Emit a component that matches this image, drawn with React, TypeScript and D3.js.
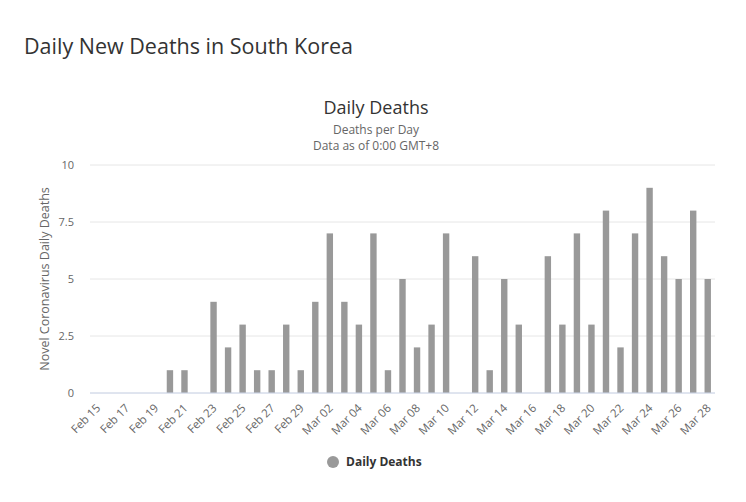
import { useEffect, useRef } from "react";
import * as d3 from "d3";

// daily values, Feb 15 - Mar 28
const dates = [
  "Feb 15", "Feb 16", "Feb 17", "Feb 18", "Feb 19", "Feb 20", "Feb 21", "Feb 22",
  "Feb 23", "Feb 24", "Feb 25", "Feb 26", "Feb 27", "Feb 28", "Feb 29",
  "Mar 01", "Mar 02", "Mar 03", "Mar 04", "Mar 05", "Mar 06", "Mar 07", "Mar 08",
  "Mar 09", "Mar 10", "Mar 11", "Mar 12", "Mar 13", "Mar 14", "Mar 15", "Mar 16",
  "Mar 17", "Mar 18", "Mar 19", "Mar 20", "Mar 21", "Mar 22", "Mar 23", "Mar 24",
  "Mar 25", "Mar 26", "Mar 27", "Mar 28",
];
const deaths = [
  0, 0, 0, 0, 0, 1, 1, 0,
  4, 2, 3, 1, 1, 3, 1,
  4, 7, 4, 3, 7, 1, 5, 2,
  3, 7, 0, 6, 1, 5, 3, 0,
  6, 3, 7, 3, 8, 2, 7, 9,
  6, 5, 8, 5,
];
const yTicks = [0, 2.5, 5, 7.5, 10];

const W = 746;
const H = 502;
const FONT = "'Open Sans', 'DejaVu Sans', sans-serif";

const App = () => {
  const svgRef = useRef<SVGSVGElement | null>(null);

  useEffect(() => {
    if (!svgRef.current) return;
    const svg = d3.select(svgRef.current);
    svg.selectAll("*").remove();

    const margin = { top: 165, right: 31, bottom: 109, left: 90 };
    const width = W - margin.left - margin.right;
    const height = H - margin.top - margin.bottom;

    // page title
    svg
      .append("text")
      .attr("x", 24)
      .attr("y", 54)
      .attr("fill", "#333")
      .style("font-family", FONT)
      .style("font-size", "21.5px")
      .text("Daily New Deaths in South Korea");

    // chart title + subtitle (centred on the whole chart box)
    const cx = W / 2 + 3;
    svg
      .append("text")
      .attr("x", cx)
      .attr("y", 114)
      .attr("text-anchor", "middle")
      .attr("fill", "#333")
      .style("font-family", FONT)
      .style("font-size", "18px")
      .text("Daily Deaths");
    ["Deaths per Day", "Data as of 0:00 GMT+8"].forEach((t, i) => {
      svg
        .append("text")
        .attr("x", cx)
        .attr("y", 134 + i * 16)
        .attr("text-anchor", "middle")
        .attr("fill", "#666")
        .style("font-family", FONT)
        .style("font-size", "12px")
        .text(t);
    });

    const g = svg
      .append("g")
      .attr("transform", `translate(${margin.left}, ${margin.top})`);

    const xScale = d3.scaleBand().domain(dates).range([0, width]).padding(0);
    const yScale = d3.scaleLinear().domain([0, 10]).range([height, 0]);

    // grid
    g.selectAll("line.grid")
      .data(yTicks)
      .enter()
      .append("line")
      .attr("x1", 0)
      .attr("x2", width)
      .attr("y1", (d) => yScale(d))
      .attr("y2", (d) => yScale(d))
      .attr("stroke", "#e6e6e6");

    // y labels
    g.selectAll("text.ytick")
      .data(yTicks)
      .enter()
      .append("text")
      .attr("x", -16)
      .attr("y", (d) => yScale(d))
      .attr("dy", "0.35em")
      .attr("text-anchor", "end")
      .attr("fill", "#666")
      .style("font-family", FONT)
      .style("font-size", "11px")
      .text((d) => String(d));

    // y title
    svg
      .append("text")
      .attr("transform", `translate(49, ${margin.top + height / 2}) rotate(-90)`)
      .attr("text-anchor", "middle")
      .attr("fill", "#666")
      .style("font-family", FONT)
      .style("font-size", "12.5px")
      .text("Novel Coronavirus Daily Deaths");

    // bars
    const bw = xScale.bandwidth() * 0.44;
    g.selectAll("rect")
      .data(dates)
      .enter()
      .append("rect")
      .attr("x", (d) => (xScale(d) || 0) + xScale.bandwidth() / 2 - bw / 2)
      .attr("y", (_, i) => yScale(deaths[i]))
      .attr("width", bw)
      .attr("height", (_, i) => height - yScale(deaths[i]))
      .attr("fill", "#999999");

    // x axis line
    g.append("line")
      .attr("x1", 0)
      .attr("x2", width)
      .attr("y1", height)
      .attr("y2", height)
      .attr("stroke", "#ccd6eb");

    // x labels, every other day
    g.selectAll("text.xtick")
      .data(dates.filter((_, i) => i % 2 === 0))
      .enter()
      .append("text")
      .attr(
        "transform",
        (d) =>
          `translate(${(xScale(d) || 0) + xScale.bandwidth() / 2 + 1}, ${height + 13}) rotate(-45)`
      )
      .attr("dy", "0.35em")
      .attr("text-anchor", "end")
      .attr("fill", "#666")
      .style("font-family", FONT)
      .style("font-size", "11.5px")
      .text((d) => d);

    // legend
    svg
      .append("circle")
      .attr("cx", 333)
      .attr("cy", 462)
      .attr("r", 6)
      .attr("fill", "#999999");
    svg
      .append("text")
      .attr("x", 346)
      .attr("y", 466)
      .attr("fill", "#333")
      .style("font-family", FONT)
      .style("font-size", "12px")
      .style("font-weight", "bold")
      .text("Daily Deaths");
  }, []);

  return (
    <svg
      ref={svgRef}
      width={W}
      height={H}
      style={{ position: "absolute", left: 0, top: 0, background: "#fff" }}
    ></svg>
  );
};

export default App;
